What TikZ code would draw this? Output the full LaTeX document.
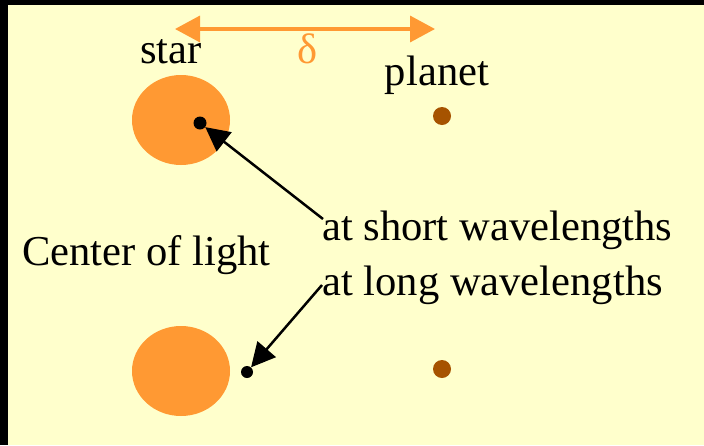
\documentclass[tikz,border=0pt]{standalone}
\usepackage{fontspec}
\setmainfont{Liberation Serif}
\usetikzlibrary{positioning,shapes.geometric,arrows.meta}
\definecolor{Cream}{RGB}{255,255,204}
\definecolor{Tangerine}{RGB}{255,153,51}
\definecolor{Rust}{RGB}{166,83,0}

\begin{document}
\begin{tikzpicture}[
    x=1pt,y=-1pt,
    disk/.style={ellipse,fill=Tangerine,minimum width=98pt,minimum height=90pt,inner sep=0pt},
    centroid/.style={circle,fill=black,minimum size=13pt,inner sep=0pt},
    planetdot/.style={circle,fill=Rust,minimum size=18pt,inner sep=0pt},
    label/.style={inner sep=0pt,font=\fontsize{42.6}{50}\selectfont},
    pointer/.style={-{Triangle[length=24pt,width=24pt]},line width=2.5pt,black},
    baseline/.style={{Triangle[length=25pt,width=26pt]}-{Triangle[length=25pt,width=26pt]},line width=3.5pt,Tangerine}
]

% Frame
\useasboundingbox (0,0) rectangle (704,445);
\fill[black] (0,0) rectangle (704,445);
\fill[Cream] (8,5) rectangle (704,445);

% Separation delta
\coordinate (dleft) at (175,29);
\coordinate (dright) at (435,29);
\draw[baseline] (dleft) -- (dright);
\node[label,Tangerine,anchor=base] (delta) at (308,63) {δ};

% Top row: short wavelengths
\node[disk] (star1) at (181,120) {};
\node[centroid] (core1) at (200,123) {};
\node[planetdot] (planet1) at (442,116) {};
\node[label,anchor=base] (starlab) at (171,63) {star};
\node[label,anchor=base] (planetlab) at (437,85) {planet};

% Bottom row: long wavelengths
\node[disk] (star2) at (181,371) {};
\node[centroid,minimum size=12pt] (core2) at (247,372) {};
\node[planetdot] (planet2) at (442,369) {};

% Labels
\node[label,anchor=base west] (centerlab) at (22,265) {Center of light};
\node[label,anchor=base west] (shortlab) at (322,240) {at short wavelengths};
\node[label,anchor=base west] (longlab) at (322,295) {at long wavelengths};

% Pointers
\coordinate (shortstart) at (323,219);
\coordinate (longstart) at (322,285);
\draw[pointer] (shortstart) -- (core1);
\draw[pointer] (longstart) -- (core2);

\end{tikzpicture}
\end{document}
